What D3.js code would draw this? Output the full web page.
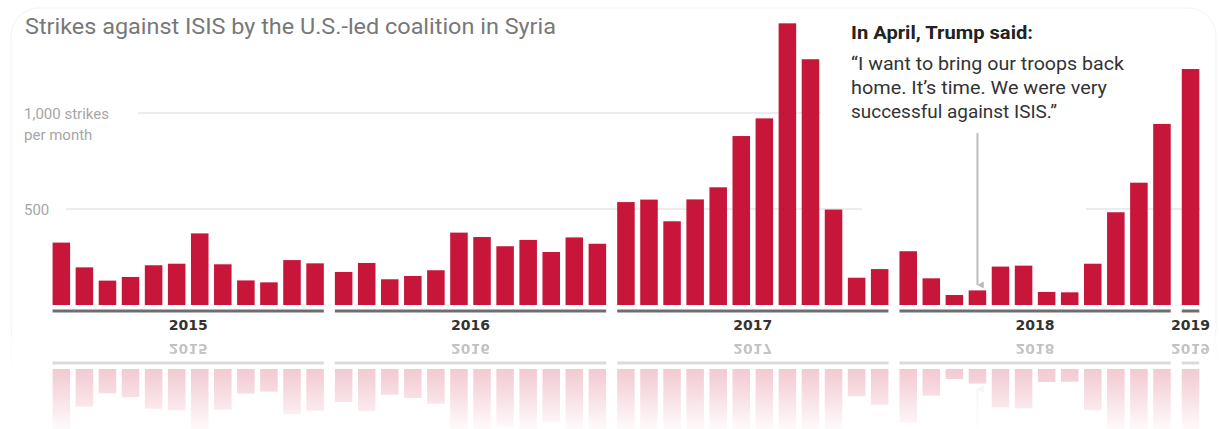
<!DOCTYPE html>
<html>
<head>
<meta charset="utf-8">
<script src="https://cdn.jsdelivr.net/npm/d3@7"></script>
<style>
  html, body { margin: 0; padding: 0; background: #fff; }
  svg { display: block; }
</style>
</head>
<body>
<svg id="chart" width="1219" height="429"></svg>
<script>
// ---- data ----
const years = [2015, 2016, 2017, 2018, 2019];
const strikes2015 = [325, 196, 127, 146, 207, 215, 373, 212, 128, 118, 234, 217];
const strikes2016 = [172, 219, 134, 151, 181, 377, 354, 306, 339, 276, 352, 319];
const strikes2017 = [536, 549, 436, 550, 613, 880, 972, 1467, 1280, 497, 142, 187];
const strikes2018 = [280, 139, 52, 76, 200, 205, 68, 66, 215, 483, 637, 943];
const strikes2019 = [1229];
const yTicks = [500, 1000];
const yTickLabels = ["500", "1,000 strikes"];
const title = "Strikes against ISIS by the U.S.-led coalition in Syria";
const noteHead = "In April, Trump said:";
const noteLines = ["\u201CI want to bring our troops back", "home. It\u2019s time. We were very", "successful against ISIS.\u201D"];
const noteTarget = { year: 2018, month: 3 };

const seriesByYear = [strikes2015, strikes2016, strikes2017, strikes2018, strikes2019];
const data = [];
years.forEach((yr, i) => seriesByYear[i].forEach((v, m) => data.push({ year: yr, month: m, value: v })));

// ---- layout ----
const W = 1219, H = 429;
const baseY = 305, mirrorY = 337;
const svg = d3.select("#chart");

const yearX = d3.scaleLinear().domain([2015, 2019]).range([49.8, 1179]);
const monthX = d3.scaleBand().domain(d3.range(12)).range([0, 276.8]).paddingInner(0.24).paddingOuter(0.12);
const y = d3.scaleLinear().domain([0, 1000]).range([baseY, 113]);
const barX = d => yearX(d.year) + monthX(d.month);

const red = "#c8163a";

// defs: fade mask for reflection
const defs = svg.append("defs");
const grad = defs.append("linearGradient").attr("id", "fadeGrad")
  .attr("gradientUnits", "userSpaceOnUse").attr("x1", 0).attr("x2", 0).attr("y1", mirrorY).attr("y2", H);
grad.append("stop").attr("offset", 0).attr("stop-color", "#fff").attr("stop-opacity", 0.33);
grad.append("stop").attr("offset", 0.45).attr("stop-color", "#fff").attr("stop-opacity", 0.2);
grad.append("stop").attr("offset", 1).attr("stop-color", "#fff").attr("stop-opacity", 0.02);
defs.append("mask").attr("id", "fade").attr("maskUnits", "userSpaceOnUse")
  .attr("x", 0).attr("y", mirrorY).attr("width", W).attr("height", H - mirrorY)
  .append("rect").attr("x", 0).attr("y", mirrorY).attr("width", W).attr("height", H - mirrorY)
  .attr("fill", "url(#fadeGrad)");
defs.append("marker").attr("id", "arrowHead").attr("viewBox", "0 0 10 10")
  .attr("refX", 5).attr("refY", 9).attr("markerWidth", 9).attr("markerHeight", 9)
  .attr("markerUnits", "userSpaceOnUse").attr("orient", "auto-start-reverse")
  .append("path").attr("d", "M1,2 L5,9 L9,2 Z").attr("fill", "#b8b8b8");

const main = svg.append("g").attr("id", "mainGroup");

// card
main.append("rect").attr("x", 11).attr("y", 8).attr("width", 1205).attr("height", mirrorY - 8 + 20)
  .attr("rx", 28).attr("fill", "#fff").attr("stroke", "#f3f3f3").attr("stroke-width", 1);
main.append("rect").attr("x", 0).attr("y", mirrorY).attr("width", W).attr("height", 30).attr("fill", "#fff");

// title
main.append("text").attr("x", 25).attr("y", 34).text(title)
  .attr("font-family", "Roboto, 'Liberation Sans', sans-serif").attr("font-size", 22)
  .attr("fill", "#787878").attr("textLength", 531).attr("lengthAdjust", "spacingAndGlyphs");

// gridlines
const gridSegs = [
  { v: 1000, x1: 138, x2: 821 },
  { v: 500, x1: 66, x2: 862 },
  { v: 500, x1: 1086, x2: 1200 }
];
main.append("g").selectAll("line").data(gridSegs).join("line")
  .attr("x1", d => d.x1).attr("x2", d => d.x2)
  .attr("y1", d => y(d.v)).attr("y2", d => y(d.v))
  .attr("stroke", "#ececec").attr("stroke-width", 2);

// y labels
const yl = main.append("g").attr("font-family", "Roboto, 'Liberation Sans', sans-serif")
  .attr("font-size", 15).attr("fill", "#a6a6a6");
yl.append("text").attr("x", 24).attr("y", y(yTicks[0]) + 5.5).text(yTickLabels[0]);
yl.append("text").attr("x", 24).attr("y", y(yTicks[1]) + 5.5).text(yTickLabels[1]);
yl.append("text").attr("x", 24).attr("y", y(yTicks[1]) + 27).text("per month");

// bars
main.append("g").selectAll("rect").data(data).join("rect")
  .attr("x", barX).attr("width", monthX.bandwidth())
  .attr("y", d => y(d.value)).attr("height", d => baseY - y(d.value))
  .attr("fill", red);

// year axis lines + labels
const yearSpans = years.map((yr, i) => {
  const n = seriesByYear[i].length;
  const x1 = yearX(yr) + monthX(0);
  const x2 = yearX(yr) + monthX(n - 1) + monthX.bandwidth();
  return { yr, x1, x2 };
});
main.append("g").selectAll("line").data(yearSpans).join("line")
  .attr("x1", d => d.x1).attr("x2", d => d.x2).attr("y1", 311).attr("y2", 311)
  .attr("stroke", "#6e6e6e").attr("stroke-width", 3);
main.append("g").selectAll("text").data(yearSpans).join("text")
  .attr("x", d => (d.x1 + d.x2) / 2).attr("y", 330).attr("text-anchor", "middle")
  .attr("font-family", "'DejaVu Sans', Verdana, sans-serif").attr("font-weight", "bold")
  .attr("font-size", 14).attr("fill", "#333").text(d => d.yr);

// annotation arrow
const ax = yearX(noteTarget.year) + monthX(noteTarget.month) + monthX.bandwidth() / 2;
main.append("line").attr("x1", ax).attr("x2", ax).attr("y1", 133).attr("y2", 285)
  .attr("stroke", "#bdbdbd").attr("stroke-width", 2).attr("marker-end", "url(#arrowHead)");

// annotation text
const nt = main.append("g").attr("font-family", "Roboto, 'Liberation Sans', sans-serif");
nt.append("text").attr("x", 851).attr("y", 38.5).text(noteHead)
  .attr("font-weight", "bold").attr("font-size", 19).attr("fill", "#222")
  .attr("textLength", 182).attr("lengthAdjust", "spacingAndGlyphs");
const noteW = [273, 256, 206];
nt.selectAll("text.q").data(noteLines).join("text").attr("class", "q")
  .attr("x", 851).attr("y", (d, i) => 70 + i * 24).text(d => d)
  .attr("font-size", 19).attr("fill", "#333")
  .attr("textLength", (d, i) => noteW[i]).attr("lengthAdjust", "spacingAndGlyphs");

// reflection
svg.append("g").attr("mask", "url(#fade)")
  .append("use").attr("href", "#mainGroup")
  .attr("transform", `translate(0, ${2 * mirrorY}) scale(1, -1)`);
</script>
</body>
</html>
